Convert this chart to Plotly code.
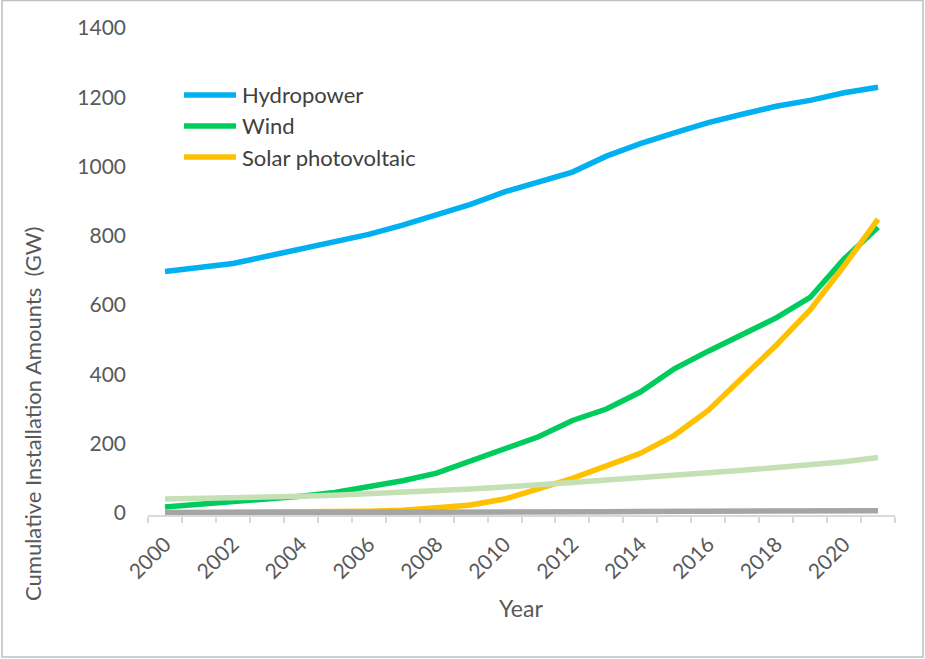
import plotly.graph_objects as go

# Cumulative installed capacity by technology, GW
years = list(range(2000, 2022))
hydropower = [697, 709, 720, 741, 762, 783, 804, 831, 860, 891, 927, 955,
              984, 1030, 1066, 1097, 1127, 1151, 1174, 1191, 1213, 1229]
wind = [17, 24, 31, 39, 48, 59, 74, 93, 115, 150, 181, 220,
        267, 300, 349, 416, 467, 514, 563, 622, 733, 825]
solar_pv = [1, 1, 2, 2, 3, 4, 5, 8, 15, 23, 40, 71,
            100, 136, 172, 224, 296, 390, 484, 586, 713, 848]
bioenergy = [40, 41, 42, 45, 48, 51, 55, 59, 64, 69, 75, 83,
             88, 95, 101, 107, 116, 123, 131, 138, 148, 160]
other = [0.4, 0.4, 0.4, 0.4, 0.4, 0.4, 0.4, 0.5, 0.5, 0.7, 1.3, 1.6,
         2.5, 3.6, 4.4, 4.7, 4.9, 5.0, 5.5, 6.2, 6.3, 6.4]

series = [
    ("Hydropower", hydropower, "#00B0F0", True),
    ("Wind", wind, "#00CC5E", True),
    ("Solar photovoltaic", solar_pv, "#FFC000", True),
    ("Bioenergy", bioenergy, "#C5E0B4", False),
    ("Other", other, "#A5A5A5", False),
]

y_ticks = [0, 200, 400, 600, 800, 1000, 1200, 1400]
x_ticks = list(range(2000, 2021, 2))

W, H = 925, 659
# a little room below zero so the thick lines near 0 are not clipped
ML, MR, MT, MB = 148, 30, 28, 144
Y_MIN, Y_MAX = -6, 1400
PW, PH = W - ML - MR, H - MT - MB
FONT = "Lato, 'Open Sans', sans-serif"


def px(x):
    return (x - ML) / PW


def py(y):
    return (H - MB - y) / PH


fig = go.Figure()
for name, vals, color, _ in series:
    fig.add_trace(go.Scatter(
        x=years, y=vals, name=name, mode="lines",
        line=dict(color=color, width=5.5, shape="linear"),
        showlegend=False, hoverinfo="x+y+name",
    ))

shapes = []
annotations = []

# legend entries (line swatch + label)
legend_rows = [95, 126, 157]
for (name, _, color, show), row in zip([s for s in series if s[3]], legend_rows):
    shapes.append(dict(type="line", xref="paper", yref="paper",
                       x0=px(184), x1=px(236), y0=py(row), y1=py(row),
                       line=dict(color=color, width=5.5)))
    annotations.append(dict(text=name, xref="paper", yref="paper",
                            x=px(240), y=py(row), xanchor="left", yanchor="middle",
                            showarrow=False,
                            font=dict(family=FONT, size=22, color="#404040")))

# outer chart border
shapes.append(dict(type="rect", xref="paper", yref="paper",
                   x0=px(2), x1=px(923), y0=py(657), y1=py(0.5),
                   line=dict(color="#BFBFBF", width=1.5), layer="below"))

# axis titles
annotations.append(dict(text="Cumulative Installation Amounts\u00a0 (GW)",
                        xref="paper", yref="paper", x=px(32), y=py(414),
                        textangle=-90, showarrow=False,
                        xanchor="center", yanchor="middle",
                        font=dict(family=FONT, size=22, color="#595959")))
annotations.append(dict(text="Year", xref="paper", yref="paper",
                        x=px(521), y=py(608), showarrow=False,
                        xanchor="center", yanchor="middle",
                        font=dict(family=FONT, size=23, color="#595959")))

fig.update_layout(
    width=W, height=H,
    margin=dict(l=ML, r=MR, t=MT, b=MB, pad=0),
    paper_bgcolor="white", plot_bgcolor="white",
    shapes=shapes, annotations=annotations,
    xaxis=dict(
        range=[1999.5, 2021.5], tickmode="array", tickvals=x_ticks,
        ticktext=[str(v) for v in x_ticks], tickangle=-45,
        ticks="", showgrid=False, zeroline=False,
        showline=True, linecolor="#D9D9D9", linewidth=1.5,
        ticklabelstandoff=7,
        tickfont=dict(family=FONT, size=21, color="#595959"),
        minor=dict(tickvals=[1999.5 + k for k in range(23)], ticks="outside",
                   ticklen=6, tickcolor="#D9D9D9", tickwidth=1.5, showgrid=False),
    ),
    yaxis=dict(
        range=[Y_MIN, Y_MAX], tickmode="array", tickvals=y_ticks,
        ticks="", showgrid=False, zeroline=False, showline=False,
        ticklabelstandoff=21,
        tickfont=dict(family=FONT, size=21, color="#595959"),
    ),
)

fig.write_html("out.html")
